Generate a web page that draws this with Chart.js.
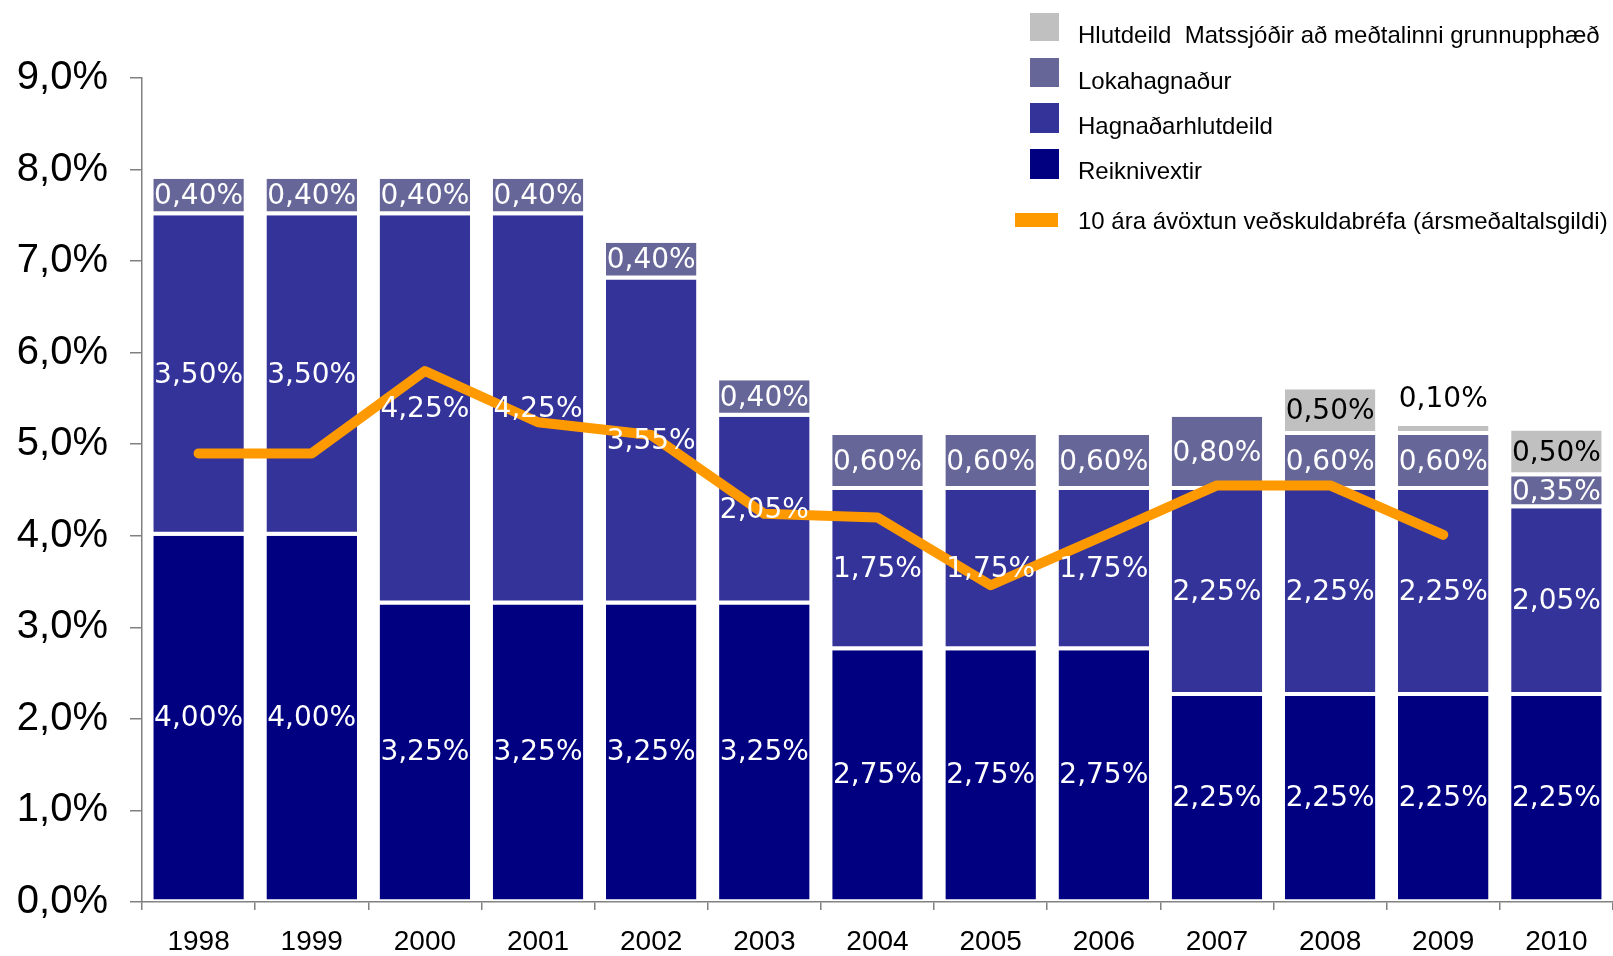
<!DOCTYPE html>
<html>
<head>
<meta charset="utf-8">
<script src="https://cdn.jsdelivr.net/npm/chart.js"></script>
<style>
  html, body {margin: 0; padding: 0; background: #fff; overflow: hidden;}
  #graph {width: 1613px; height: 956px;}
</style>
</head>
<body>
<div id="graph"><canvas width="1613" height="956"></canvas></div>
<script>
const years = ['1998', '1999', '2000', '2001', '2002', '2003', '2004', '2005', '2006', '2007', '2008', '2009', '2010'];
const reiknivextir = [4.00, 4.00, 3.25, 3.25, 3.25, 3.25, 2.75, 2.75, 2.75, 2.25, 2.25, 2.25, 2.25];
const hagnadarhlutdeild = [3.50, 3.50, 4.25, 4.25, 3.55, 2.05, 1.75, 1.75, 1.75, 2.25, 2.25, 2.25, 2.05];
const lokahagnadur = [0.40, 0.40, 0.40, 0.40, 0.40, 0.40, 0.60, 0.60, 0.60, 0.80, 0.60, 0.60, 0.35];
const matssjodir = [0, 0, 0, 0, 0, 0, 0, 0, 0, 0, 0.50, 0.10, 0.50];
const avoxtun = [4.90, 4.90, 5.80, 5.24, 5.10, 4.24, 4.20, 3.46, 4.00, 4.55, 4.55, 4.01, null];
const yTickLabels = ['0,0%', '1,0%', '2,0%', '3,0%', '4,0%', '5,0%', '6,0%', '7,0%', '8,0%', '9,0%'];

const names = {
  matss: 'Hlutdeild  Matssjóðir að meðtalinni grunnupphæð',
  loka: 'Lokahagnaður',
  hagn: 'Hagnaðarhlutdeild',
  reikn: 'Reiknivextir',
  avox: '10 ára ávöxtun veðskuldabréfa (ársmeðaltalsgildi)'
};
const colors = {reikn: '#000080', hagn: '#333399', loka: '#666699', matss: '#c0c0c0', avox: '#ff9900'};

function fmt(v){
  return v.toFixed(2).replace('.', ',') + '%';
}

function bar(key, data, labelColor, bottom){
  return {
    type: 'bar',
    label: names[key],
    data: data,
    backgroundColor: colors[key],
    borderColor: '#ffffff',
    borderWidth: {top: 0, right: 0, bottom: bottom, left: 0},
    borderSkipped: false,
    stack: 'bars',
    order: 1,
    labelColor: labelColor
  };
}

// value labels inside the segments (drawn over the line like the original)
const barLabels = {
  id: 'barLabels',
  afterDatasetsDraw(chart){
    const ctx = chart.ctx;
    ctx.save();
    ctx.font = '28px "DejaVu Sans"';
    ctx.textAlign = 'center';
    ctx.textBaseline = 'middle';
    chart.data.datasets.forEach((ds, di) => {
      if(ds.type !== 'bar') return;
      chart.getDatasetMeta(di).data.forEach((el, i) => {
        const v = ds.data[i];
        if(!v) return;
        let y = (el.y + el.base) / 2;
        if(v < 0.2) y = el.y - 26;
        ctx.fillStyle = ds.labelColor;
        ctx.fillText(fmt(v), el.x, y);
      });
    });
    ctx.restore();
  }
};

// legend sits over the top right of the plot
const sideLegend = {
  id: 'sideLegend',
  afterDraw(chart){
    const ctx = chart.ctx;
    const items = [
      {key: 'matss', box: [1030, 13, 29, 28], base: 43},
      {key: 'loka', box: [1030, 58, 29, 29], base: 89},
      {key: 'hagn', box: [1030, 103, 29, 30], base: 134},
      {key: 'reikn', box: [1030, 149, 29, 30], base: 179},
      {key: 'avox', box: [1015, 213, 43, 14], base: 229}
    ];
    ctx.save();
    ctx.font = '24px "Liberation Sans", Arial';
    ctx.textAlign = 'left';
    ctx.textBaseline = 'alphabetic';
    items.forEach(it => {
      ctx.fillStyle = colors[it.key];
      ctx.fillRect(...it.box);
      ctx.fillStyle = '#000';
      ctx.fillText(names[it.key], 1078, it.base);
    });
    ctx.restore();
  }
};

window.onload = function(){
  const config = {
    type: 'bar',
    data: {
      labels: years,
      datasets: [
        {
          type: 'line',
          label: names.avox,
          data: avoxtun,
          borderColor: colors.avox,
          backgroundColor: colors.avox,
          borderWidth: 10,
          borderCapStyle: 'round',
          borderJoinStyle: 'round',
          pointRadius: 0,
          tension: 0,
          fill: false,
          stack: 'line',
          order: 0
        },
        bar('reikn', reiknivextir, '#ffffff', 2),
        bar('hagn', hagnadarhlutdeild, '#ffffff', 4),
        bar('loka', lokahagnadur, '#ffffff', 4),
        bar('matss', matssjodir, '#000000', 4)
      ]
    },
    options: {
      responsive: false,
      devicePixelRatio: 1,
      animation: false,
      layout: {padding: {top: 78, left: 0, right: 0, bottom: 0}},
      plugins: {legend: {display: false}, tooltip: {enabled: false}},
      datasets: {bar: {barPercentage: 0.8, categoryPercentage: 1}},
      scales: {
        x: {
          stacked: true,
          afterFit: s => { s.height = 54; },
          grid: {offset: true, drawOnChartArea: false, color: '#808080', lineWidth: 1.5, tickLength: 8},
          border: {color: '#808080', width: 1.5},
          ticks: {color: '#000', padding: 15, font: {family: '"Liberation Sans", Arial', size: 28}}
        },
        y: {
          stacked: true,
          min: 0,
          max: 9,
          afterFit: s => { s.width = 142; },
          grid: {drawOnChartArea: false, color: '#808080', lineWidth: 1.5, tickLength: 12},
          border: {color: '#808080', width: 1.5},
          ticks: {
            stepSize: 1,
            color: '#000',
            padding: 22,
            font: {family: '"Liberation Sans", Arial', size: 40},
            callback: v => yTickLabels[v]
          }
        }
      }
    },
    plugins: [barLabels, sideLegend]
  };

  new Chart(document.querySelector('#graph canvas').getContext('2d'), config);
};
</script>
</body>
</html>
